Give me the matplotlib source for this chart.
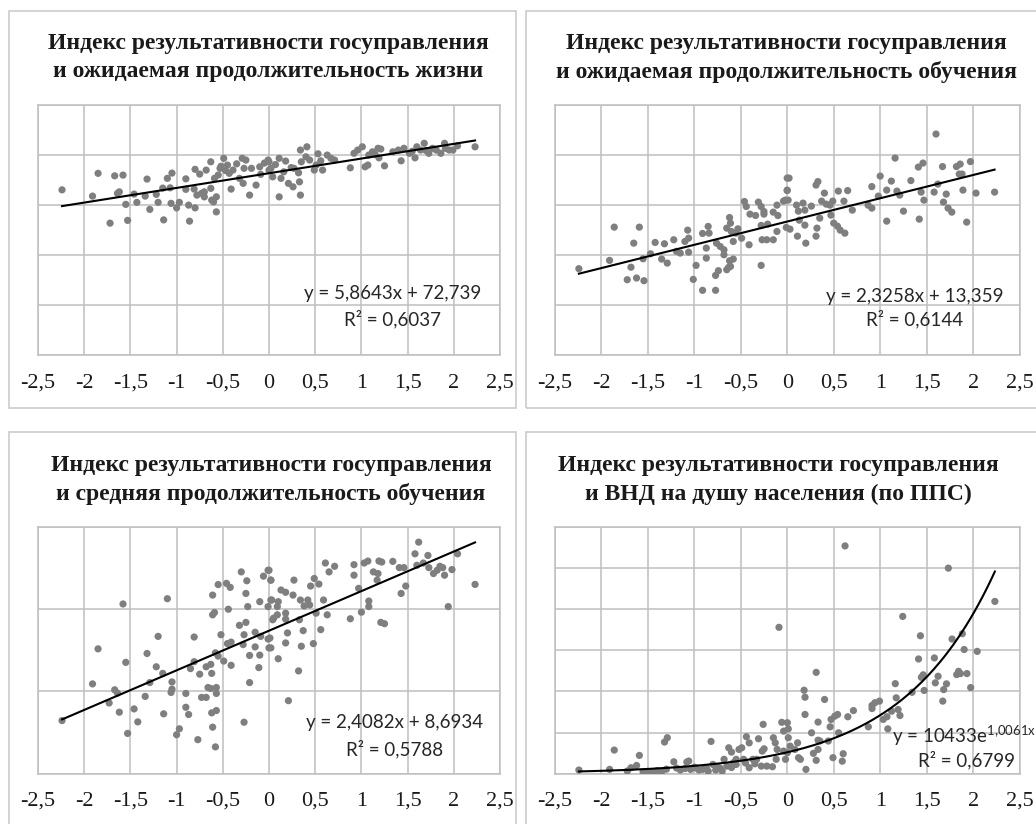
import matplotlib
matplotlib.use("Agg")
import matplotlib.pyplot as plt
from matplotlib.patches import Rectangle
import numpy as np

plt.rcParams['mathtext.fontset'] = 'custom'
plt.rcParams['mathtext.rm'] = 'Lato'

W, H = 1036, 824

# ---- Panel 1: governance effectiveness vs life expectancy ----
life_x = [-2.24, -1.85, -1.67, -1.58, -1.91, -1.64, -1.62, -1.55, -1.46, -1.72, -1.53, -1.43,
          -1.34, -1.32, -1.29, -1.22, -1.20, -1.15, -1.14, -1.10, -1.07, -1.05, -1.06, -1.00,
          -0.97, -0.90, -0.90, -0.87, -0.86, -0.80, -0.81, -0.80, -0.78, -0.75, -0.73, -0.70,
          -0.68, -0.70, -0.63, -0.63, -0.62, -0.59, -0.60, -0.57, -0.57, -0.55, -0.53, -0.49,
          -0.45, -0.43, -0.41, -0.39, -0.32, -0.29, -0.27, -0.25, -0.28, -0.21, -0.19, -0.14,
          -0.10, -0.09, -0.01, 0.00,
          0.00, 0.02, 0.04, 0.11, 0.13, 0.18, 0.16, 0.21, 0.26, 0.27, 0.32, 0.33, 0.34, 0.34,
          0.41, 0.11, 0.35, 0.40, 0.44, 0.49, 0.51, 0.56, 0.58, 0.63, 0.67, 0.71, 0.88, 0.92,
          0.96, 1.01, 1.04, 1.07, 1.08, 1.12, 1.18, 1.19, 1.21, 1.25, 1.34, 1.40, 1.43, 1.46,
          1.52, 1.58, 1.60, 1.64, 1.68, 1.73, 1.77, 1.81, 1.86, 1.90, 1.91, 1.95, 1.99, 2.04,
          2.23, -0.52, -0.47, -0.35, -0.05, 0.07, 0.24, 0.53, 1.15, 1.55, 1.70]
life_y = [66.1, 72.7, 71.7, 72.0, 63.6, 64.7, 65.3, 60.3, 64.4, 52.8, 53.9, 61.1,
          63.6, 70.4, 58.3, 64.3, 61.1, 66.8, 54.1, 70.7, 66.9, 72.8, 60.7, 58.9,
          61.1, 70.5, 66.3, 60.0, 53.6, 74.3, 66.4, 58.9, 64.0, 72.4, 64.7, 65.3,
          74.0, 63.3, 66.7, 77.3, 62.0, 70.7, 61.3, 57.3, 63.3, 72.0, 74.7, 78.7,
          76.0, 72.7, 66.4, 74.0, 70.7, 78.7, 74.7, 78.0, 68.7, 64.0, 74.7, 68.0,
          75.3, 72.3, 78.0, 74.0,
          77.3, 74.7, 71.3, 78.7, 70.7, 77.6, 73.3, 68.7, 67.3, 74.7, 72.9, 69.3, 82.0, 64.0,
          83.3, 63.3, 77.3, 79.3, 78.0, 74.0, 76.0, 77.7, 74.0, 80.0, 78.7, 78.0, 74.9, 80.7,
          82.0, 83.3, 75.3, 76.0, 80.0, 81.3, 82.7, 78.9, 82.4, 75.7, 81.3, 82.0, 77.7, 82.7,
          80.7, 78.9, 83.3, 82.0, 84.7, 80.7, 82.7, 82.0, 80.7, 84.7, 82.7, 82.0, 82.0, 83.7,
          83.3, 75.5, 73.8, 76.5, 76.8, 76.2, 75.0, 80.5, 80.2, 81.5, 81.8]
life_fit = (5.8643, 72.739)
life_r2 = "0,6037"

# ---- Panel 2: governance effectiveness vs expected years of schooling ----
exp_x = [-2.24, -1.91, -1.86, -1.59, -1.65, -1.68, -1.72, -1.62, -1.54, -1.55, -1.47, -1.42,
         -1.35, -1.32, -1.29, -1.22, -1.19, -1.15, -1.10, -1.07, -1.06, -1.06, -1.01, -0.98,
         -0.91, -0.87, -0.87, -0.91, -0.85, -0.84, -0.77, -0.77, -0.74, -0.76, -0.72, -0.68,
         -0.68, -0.65, -0.62, -0.61, -0.60, -0.65, -0.63, -0.61, -0.58, -0.62, -0.58, -0.55,
         -0.53, -0.49, -0.46, -0.44, -0.40, -0.41, -0.34, -0.31, -0.28, -0.25, -0.25, -0.28,
         -0.27, -0.22, -0.15, -0.28, -0.21, -0.15, -0.11, -0.10, -0.11, -0.04, -0.02, -0.01,
         0.00, 0.00,
         0.02, 0.00, 0.01, 0.03, 0.10, 0.12, 0.17, 0.19, 0.13, 0.19, 0.11, 0.20, 0.26, 0.31,
         0.33, 0.35, 0.32, 0.31, 0.37, 0.40, 0.42, 0.46, 0.49, 0.47, 0.50, 0.54, 0.57, 0.62,
         0.55, 0.61, 0.65, 0.70, 0.87, 0.91, 0.91, 0.98, 1.00, 1.07, 1.07, 1.12, 1.16, 1.18,
         1.21, 1.25, 1.33, 1.41, 1.46, 1.42, 1.44, 1.47, 1.58, 1.60, 1.62, 1.67, 1.68, 1.71,
         1.73, 1.77, 1.82, 1.86, 1.85, 1.88, 1.89, 1.93, 1.97, 2.03, 2.23]
exp_y = [8.65, 9.48, 12.8, 12.8, 11.2, 8.8, 7.55, 7.72, 7.45, 9.64, 10.14, 11.27,
         9.61, 11.14, 9.21, 11.54, 10.38, 10.21, 11.37, 12.5, 11.7, 10.3, 7.58, 8.98,
         12.17, 10.71, 9.71, 6.49, 12.87, 12.2, 6.49, 7.98, 8.45, 11.2, 10.87, 10.54,
         10.04, 12.7, 13.76, 13.2, 12.36, 8.55, 8.78, 8.88, 9.61, 9.44, 11.37, 12.2,
         12.63, 11.7, 15.36, 14.86, 14.1, 11.04, 13.96, 15.3, 14.86, 14.1, 14.36, 12.97,
         11.54, 11.54, 11.54, 8.98, 13.1, 14.3, 15.0, 13.96, 12.37, 15.4, 15.5, 12.77,
         17.7, 16.5,
         17.7, 16.45, 15.5, 12.6, 15.0, 14.4, 15.2, 14.5, 13.5, 13.0, 11.9, 11.2, 14.9, 17.0,
         17.35, 13.7, 12.7, 11.9, 15.4, 16.2, 15.1, 15.0, 15.4, 14.0, 13.2, 12.9, 12.5, 12.2,
         16.4, 15.4, 16.45, 14.5, 15.0, 16.85, 14.7, 15.9, 17.9, 16.5, 13.4, 17.4, 19.7, 16.4,
         16.0, 14.4, 17.45, 18.8, 19.2, 13.6, 16.3, 15.5, 16.3, 22.1, 17.1, 18.85, 15.3, 16.1,
         14.7, 14.3, 18.85, 19.1, 18.1, 18.1, 16.5, 13.3, 19.35, 16.2, 16.3]
exp_fit = (2.3258, 13.359)
exp_r2 = "0,6144"

# ---- Panel 3: governance effectiveness vs mean years of schooling ----
mys_x = [-2.24, -1.91, -1.85, -1.67, -1.64, -1.73, -1.62, -1.58, -1.55, -1.53, -1.46, -1.42,
         -1.34, -1.32, -1.29, -1.22, -1.20, -1.15, -1.14, -1.10, -1.06, -1.05, -1.05, -1.00,
         -0.97, -0.90, -0.90, -0.87, -0.85, -0.81, -0.81, -0.77, -0.75, -0.73, -0.68, -0.68,
         -0.66, -0.63, -0.62, -0.62, -0.63, -0.61, -0.61, -0.59, -0.58, -0.57, -0.57, -0.57,
         -0.58, -0.61, -0.55, -0.55, -0.52, -0.49, -0.46, -0.45, -0.42, -0.44, -0.41, -0.41,
         -0.32, -0.30, -0.27, -0.27, -0.25, -0.25, -0.24, -0.23, -0.28, -0.21, -0.21, -0.15,
         -0.15, -0.11, -0.10, -0.09, -0.10, -0.06, -0.01, -0.01, -0.01, 0.00, 0.02, 0.02, 0.04,
         0.00, 0.02, 0.03, 0.09, 0.10, 0.13, 0.18, 0.26, 0.27, 0.05, 0.09, 0.18, 0.18, 0.01,
         0.02, 0.18, 0.20, 0.10, 0.21, 0.32, 0.33, 0.34, 0.35, 0.37, 0.38, 0.42, 0.44, 0.45,
         0.48, 0.49, 0.51, 0.54, 0.56, 0.59, 0.61, 0.63, 0.65, 0.71, 0.88, 0.92, 0.92, 0.97,
         1.00, 1.03, 1.07, 1.08, 1.08, 1.13, 1.18, 1.17, 1.19, 1.22, 1.21, 1.25, 1.34, 1.41,
         1.43, 1.46, 1.48, 1.58, 1.60, 1.62, 1.67, 1.72, 1.73, 1.78, 1.82, 1.85, 1.88, 1.90,
         1.94, 1.98, 2.04, 2.23]
mys_y = [3.23, 5.46, 7.59, 5.10, 4.90, 4.30, 3.74, 10.32, 6.77, 2.45, 3.94, 3.15,
         4.70, 7.31, 5.54, 6.50, 8.35, 6.10, 3.64, 10.64, 4.94, 5.14, 5.58, 2.37,
         2.73, 4.88, 4.04, 3.60, 6.39, 8.31, 6.81, 2.07, 6.05, 4.64, 4.64, 6.50,
         5.24, 6.65, 6.10, 3.70, 5.18, 2.83, 9.66, 9.80, 1.63, 3.84, 5.24, 4.88,
         7.35, 10.86, 7.15, 11.50, 8.45, 6.85, 11.57, 7.91, 11.33, 10.00, 6.59, 8.00,
         9.02, 12.27, 3.13, 8.45, 9.20, 10.96, 11.73, 10.16, 7.85, 7.19, 5.54, 8.60,
         7.71, 6.45, 7.21, 8.35, 10.46, 12.01, 12.37, 10.16, 8.19, 7.65, 11.77, 10.56, 9.36,
         12.37, 11.77, 10.56, 10.16, 10.46, 11.17, 11.03, 10.86, 11.77, 9.46, 9.66, 9.76, 9.40, 8.25,
         7.65, 7.95, 8.56, 6.99, 4.44, 6.25, 9.36, 10.56, 7.75, 8.70, 10.20, 10.56, 10.26, 11.41,
         7.91, 11.87, 9.76, 11.53, 8.76, 10.56, 12.81, 9.66, 12.27, 12.61, 9.42, 12.71, 12.07, 11.27,
         9.82, 12.81, 12.93, 10.50, 10.16, 12.27, 12.17, 11.77, 12.93, 12.87, 9.20, 9.12, 12.91, 12.53,
         10.96, 12.53, 11.41, 13.37, 12.67, 14.08, 12.81, 13.27, 12.53, 12.17, 12.37, 12.61, 12.53, 12.07,
         10.16, 12.41, 13.37, 11.51]
mys_fit = (2.4082, 8.6934)
mys_r2 = "0,5788"

# ---- Panel 4: governance effectiveness vs GNI per capita (PPP) ----
gni_x = [-2.24, -1.91, -1.86, -1.72, -1.68, -1.62, -1.59, -1.55, -1.44, -1.35, -1.32, -1.29,
         -1.22, -1.19, -1.15, -1.08, -1.06, -1.04, -0.98, -0.91, -0.87, -0.82, -0.80, -0.77,
         -0.75, -0.70, -0.68, -0.65, -0.63, -0.60, -0.58, -0.55, -0.52, -0.49, -0.47, -0.44,
         -0.41, -0.41, -0.37, -0.33, -0.31, -0.28, -0.27, -0.25, -0.26, -0.22, -0.16, -0.15,
         -0.13, -0.12, -0.11, -0.09, -0.06, -0.04, -0.04, -0.02,
         -1.40, -1.30, -1.10, -0.95, -0.85, -0.72, -0.60, -0.55, -0.45, -0.35, -1.50, -1.00,
         0.00, 0.01, 0.01, 0.03, 0.00, 0.08, 0.11, 0.12, 0.14, 0.18, 0.19, 0.19, 0.20, 0.26,
         0.28, 0.31, 0.31, 0.33, 0.33, 0.33, 0.35, 0.40, 0.44, 0.46, 0.47, 0.49, 0.51, 0.54,
         0.55, 0.59, 0.60, 0.62, 0.65, 0.71, 0.87, 0.91, 0.91, 0.94, 0.99, 1.03, 1.07, 1.08,
         1.12, 1.16, 1.17, 1.19, 1.21, 1.24, 1.34, 1.43, 1.41, 1.44, 1.46, 1.47, 1.58, 1.59,
         1.62, 1.67, 1.68, 1.71, 1.73, 1.77, 1.82, 1.84, 1.86, 1.88, 1.90, 1.93, 1.97, 2.04,
         2.23]
gni_y = [1780, 2100, 11500, 1300, 2900, 4000, 8900, 970, 970, 970, 15400, 17500,
         5800, 2750, 1780, 5660, 6150, 2100, 2750, 2100, 2900, 15700, 4500, 1780,
         3400, 1300, 7000, 3700, 12600, 10500, 5340, 7000, 11800, 12600, 7000, 18000,
         15000, 2900, 7000, 7000, 17000, 3700, 11000, 12100, 24000, 3700, 3400, 17500,
         15000, 7000, 11800, 71200, 25000, 20700, 11000, 7000,
         1500, 2200, 2500, 1800, 1200, 2600, 3000, 4500, 5200, 4800, 1100, 3200,
         24800, 21800, 17500, 13400, 10200, 11800, 15000, 7800, 7000, 40600, 37200, 28800, 2100, 19900,
         9900, 49300, 6500, 25100, 16300, 11800, 15900, 36100, 15900, 22800, 26400, 7800, 28000, 28800,
         19900, 6100, 9700, 110800, 27700, 30700, 22800, 31700, 33200, 34500, 35300, 26400, 27700, 21800,
         30400, 43800, 36900, 31200, 28300, 76500, 39600, 67100, 55800, 46900, 48100, 40500, 56300, 44200,
         47400, 35300, 40900, 43700, 100000, 65500, 48200, 49800, 48700, 68100, 60400, 48700, 41900, 59500,
         83800]
gni_fit = (10433, 1.0061)
gni_r2 = "0,6799"

titles = [
    ("Индекс результативности госуправления", "и ожидаемая продолжительность жизни"),
    ("Индекс результативности госуправления", "и ожидаемая продолжительность обучения"),
    ("Индекс результативности госуправления", "и средняя продолжительность обучения"),
    ("Индекс результативности госуправления", "и ВНД на душу населения (по ППС)"),
]

x_ticks = np.arange(-2.5, 2.51, 0.5)
GRID = "#bfbfbf"
DOT = "#7f7f7f"
SERIF = "Liberation Serif"
EQ_FONT = "Lato"
EQ_SIZE = 13.5

fig = plt.figure(figsize=(W / 100, H / 100), dpi=100)


def px_rect(left, top, right, bottom):
    return [left / W, 1 - bottom / H, (right - left) / W, (bottom - top) / H]


# chart frames
for (l, t, r, b) in [(9, 11, 516, 408), (526, 11, 1045, 408),
                     (9, 432, 516, 840), (526, 432, 1045, 840)]:
    fig.patches.append(Rectangle((l / W, 1 - b / H), (r - l) / W, (b - t) / H,
                                 transform=fig.transFigure, fill=False,
                                 edgecolor="#c8c8c8", lw=1.1))

panels = [
    dict(rect=(38, 105, 500, 355.3), x=life_x, y=life_y, ymax=100, ystep=20,
         kind="lin", fit=life_fit, r2=life_r2, title=titles[0], tcx=268, t1=43,
         eq=(1.34, 24.5), r2pos=(1.34, 14.5), tick_base=388),
    dict(rect=(554.7, 105, 1019.7, 355.3), x=exp_x, y=exp_y, ymax=25, ystep=5,
         kind="lin", fit=exp_fit, r2=exp_r2, title=titles[1], tcx=786, t1=43,
         eq=(1.37, 5.9), r2pos=(1.37, 3.6), tick_base=388),
    dict(rect=(38, 527, 500, 773.7), x=mys_x, y=mys_y, ymax=15, ystep=5,
         kind="lin", fit=mys_fit, r2=mys_r2, title=titles[2], tcx=271, t1=465,
         eq=(1.36, 3.14), r2pos=(1.36, 1.52), tick_base=806),
    dict(rect=(554.7, 527, 1020, 773.7), x=gni_x, y=gni_y, ymax=120000, ystep=20000,
         kind="exp", fit=gni_fit, r2=gni_r2, title=titles[3], tcx=778, t1=465,
         eq=(1.90, 18700), r2pos=(1.93, 6500), tick_base=806),
]


def comma_fmt(v):
    return f"{v:g}".replace(".", ",")


for p in panels:
    left, top, right, bottom = p["rect"]
    ax = fig.add_axes(px_rect(left, top, right, bottom))
    ax.set_xlim(-2.5, 2.5)
    ax.set_ylim(0, p["ymax"])
    ax.set_xticks(x_ticks)
    ax.set_yticks(np.arange(0, p["ymax"] + p["ystep"] / 2, p["ystep"]))
    ax.set_xticklabels([])
    ax.set_yticklabels([])
    ax.tick_params(length=0, axis="both")
    ax.grid(True, color=GRID, lw=1.1)
    ax.set_axisbelow(True)
    for s in ax.spines.values():
        s.set_color(GRID)
        s.set_linewidth(1.1)

    # x tick labels on a shared baseline below the plot area
    for v in x_ticks:
        xp = left + (v - x_ticks[0]) / (x_ticks[-1] - x_ticks[0]) * (right - left)
        fig.text(xp / W, 1 - p["tick_base"] / H, comma_fmt(v), ha="center",
                 va="baseline", fontsize=16, family=SERIF, color="#1a1a1a")

    xs = np.array(p["x"])
    ys = np.array(p["y"])
    ax.scatter(xs, ys, s=27, color=DOT, edgecolors="none", zorder=3)

    xx = np.linspace(xs.min(), xs.max(), 200)
    if p["kind"] == "lin":
        a, b = p["fit"]
        ax.plot(xx, a * xx + b, color="black", lw=1.5, zorder=4)
        eq = f"y = {a:g}x + {b:g}".replace(".", ",")
    else:
        a, b = p["fit"]
        ax.plot(xx, a * np.exp(b * xx), color="black", lw=1.5, zorder=4)
        eq = r"y = %de$^{\mathrm{%s}}$" % (a, f"{b:g}".replace(".", "{,}") + "x")
    ax.text(*p["eq"], eq, ha="center", va="center", fontsize=EQ_SIZE,
            family=EQ_FONT, color="#262626", zorder=5, clip_on=False)
    ax.text(*p["r2pos"], "R² = " + p["r2"], ha="center", va="center",
            fontsize=EQ_SIZE, family=EQ_FONT, color="#262626", zorder=5)

    line1, line2 = p["title"]
    fig.text(p["tcx"] / W, 1 - p["t1"] / H, line1, ha="center", va="center",
             fontsize=17, fontweight="bold", family=SERIF, color="#1a1a1a")
    fig.text(p["tcx"] / W, 1 - (p["t1"] + 29) / H, line2, ha="center", va="center",
             fontsize=17, fontweight="bold", family=SERIF, color="#1a1a1a")

fig.savefig("out.png", dpi=100)
